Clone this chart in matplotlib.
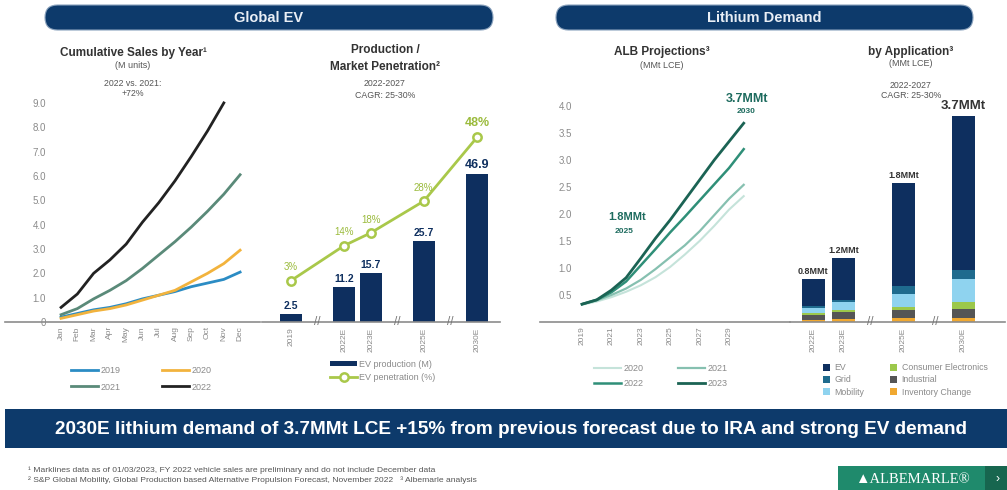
import numpy as np
import matplotlib
matplotlib.use('Agg')
import matplotlib.pyplot as plt
from matplotlib.patches import FancyBboxPatch, Rectangle, Patch

plt.rcParams['font.family'] = ['Liberation Sans', 'DejaVu Sans']

W, H = 1007, 490

# ----------------------------------------------------------------------------------
# Dane
# ----------------------------------------------------------------------------------

months = ['Jan', 'Feb', 'Mar', 'Apr', 'May', 'Jun', 'Jul', 'Aug', 'Sep', 'Oct', 'Nov', 'Dec']
sales_2019 = [0.20, 0.35, 0.50, 0.60, 0.75, 0.95, 1.10, 1.25, 1.45, 1.60, 1.75, 2.05]
sales_2020 = [0.15, 0.30, 0.45, 0.55, 0.70, 0.90, 1.10, 1.30, 1.65, 2.00, 2.40, 2.95]
sales_2021 = [0.30, 0.55, 0.95, 1.30, 1.70, 2.20, 2.75, 3.30, 3.90, 4.55, 5.25, 6.05]
sales_2022 = [0.60, 1.15, 2.00, 2.55, 3.20, 4.10, 4.90, 5.80, 6.80, 7.85, 9.00]  # bez grudnia

prod_years = ['2019', '2022E', '2023E', '2025E', '2030E']
prod_pos = [0, 2, 3, 5, 7]
ev_production = [2.5, 11.2, 15.7, 25.7, 46.9]
ev_penetration = [3, 14, 18, 28, 48]

alb_years = list(range(2019, 2031))
alb_2020 = [0.32, 0.38, 0.46, 0.56, 0.68, 0.83, 1.02, 1.25, 1.50, 1.78, 2.08, 2.33]
alb_2021 = [0.33, 0.40, 0.50, 0.62, 0.78, 0.98, 1.20, 1.42, 1.68, 1.98, 2.28, 2.54]
alb_2022 = [0.33, 0.41, 0.55, 0.75, 1.05, 1.35, 1.66, 1.95, 2.25, 2.55, 2.85, 3.20]
alb_2023 = [0.33, 0.41, 0.59, 0.82, 1.18, 1.55, 1.89, 2.26, 2.63, 3.00, 3.34, 3.68]

app_years = ['2022E', '2023E', '2025E', '2030E']
app_pos = [0, 1, 3, 5]
app_labels = ['0.8MMt', '1.2MMt', '1.8MMt', '3.7MMt']
app_inventory = [0.03, 0.06, 0.08, 0.08]
app_industrial = [0.09, 0.12, 0.13, 0.16]
app_consumer = [0.04, 0.04, 0.06, 0.12]
app_mobility = [0.09, 0.14, 0.23, 0.41]
app_grid = [0.03, 0.03, 0.15, 0.16]
app_ev = [0.50, 0.76, 1.85, 2.78]

# ----------------------------------------------------------------------------------
# Kolory
# ----------------------------------------------------------------------------------

NAVY = '#0e2f5f'
BANNER = '#0d3a6b'
GRAY_TXT = '#8a8a8a'
DARK_TXT = '#333333'
AXIS = '#8c8c8c'
GREEN = '#a9c84a'
TEAL = '#1d6b5e'


def px_axes(l, t, r, b):
    ax = fig.add_axes([l / W, 1 - b / H, (r - l) / W, (b - t) / H])
    ax.set_facecolor('none')
    for s in ax.spines.values():
        s.set_visible(False)
    return ax


fig = plt.figure(figsize=(W / 100, H / 100), dpi=100)
fig.patch.set_facecolor('white')

# tło w pikselach
bg = fig.add_axes([0, 0, 1, 1])
bg.set_xlim(0, W)
bg.set_ylim(H, 0)
bg.axis('off')

for (x0, x1, txt) in [(45, 493, 'Global EV'), (556, 973, 'Lithium Demand')]:
    bg.add_patch(FancyBboxPatch((x0, 5), x1 - x0, 25, boxstyle='round,pad=0,rounding_size=12.5',
                                facecolor=BANNER, edgecolor='#8aa2bd', lw=0.8))
    bg.text((x0 + x1) / 2, 18, txt, color='#e9eef5', fontsize=10.5, fontweight='bold',
            ha='center', va='center')

bg.add_patch(Rectangle((5, 409), 1002, 39, facecolor=BANNER, edgecolor='none'))
bg.text(511, 429, '2030E lithium demand of 3.7MMt LCE +15% from previous forecast due to IRA and strong EV demand',
        color='white', fontsize=13.7, fontweight='bold', ha='center', va='center')

bg.text(28, 470, '\u00b9 Marklines data as of 01/03/2023, FY 2022 vehicle sales are preliminary and do not include December data',
        fontsize=6.1, color='#555555', va='center')
bg.text(28, 480, '\u00b2 S&P Global Mobility, Global Production based Alternative Propulsion Forecast, November 2022   \u00b3 Albemarle analysis',
        fontsize=6.1, color='#555555', va='center')

bg.add_patch(Rectangle((838, 466), 147, 30, facecolor='#1f8a6c', edgecolor='none'))
bg.add_patch(Rectangle((985, 466), 22, 30, facecolor='#17664f', edgecolor='none'))
bg.text(912, 479, '\u25b2ALBEMARLE\u00ae', color='white', fontsize=10.5, ha='center', va='center',
        family=['Liberation Serif', 'DejaVu Serif'])
bg.text(998, 479, '\u203a', color='white', fontsize=9, ha='center', va='center')

# tytuły paneli
def title_block(x, lines):
    for y, txt, size, weight, col in lines:
        bg.text(x, y, txt, fontsize=size, fontweight=weight, color=col, ha='center', va='center')

title_block(133, [(53, 'Cumulative Sales by Year\u00b9', 8.5, 'bold', DARK_TXT),
                  (66, '(M units)', 6.5, 'normal', '#555555'),
                  (83, '2022 vs. 2021:', 6.3, 'normal', '#555555'),
                  (93, '+72%', 6.3, 'normal', '#555555')])
title_block(385, [(50, 'Production /', 8.5, 'bold', DARK_TXT),
                  (67, 'Market Penetration\u00b2', 8.5, 'bold', DARK_TXT),
                  (84, '2022-2027', 6.3, 'normal', '#555555'),
                  (95, 'CAGR: 25-30%', 6.3, 'normal', '#555555')])
title_block(662, [(52, 'ALB Projections\u00b3', 8.5, 'bold', DARK_TXT),
                  (65, '(MMt LCE)', 6.5, 'normal', '#555555')])
title_block(911, [(52, 'by Application\u00b3', 8.5, 'bold', DARK_TXT),
                  (64, '(MMt LCE)', 6.5, 'normal', '#555555'),
                  (85, '2022-2027', 6.3, 'normal', '#555555'),
                  (95, 'CAGR: 25-30%', 6.3, 'normal', '#555555')])

# ----------------------------------------------------------------------------------
# Panel 1 - sprzedaż skumulowana
# ----------------------------------------------------------------------------------

ax1 = px_axes(50, 100, 258, 322)
x_m = np.arange(len(months))
l19, = ax1.plot(x_m, sales_2019, color='#2b8cc4', lw=2)
l20, = ax1.plot(x_m, sales_2020, color='#f2b33d', lw=2)
l21, = ax1.plot(x_m, sales_2021, color='#5a8a79', lw=2)
l22, = ax1.plot(x_m[:len(sales_2022)], sales_2022, color='#222222', lw=2)
ax1.set_xlim(-0.68, 12.1)
ax1.set_ylim(0, 9.12)
ax1.set_xticks(x_m)
ax1.set_xticklabels(months, rotation=90, fontsize=6, color=GRAY_TXT)
ax1.set_yticks(np.arange(0, 10))
ax1.set_yticklabels(['0'] + [f'{v:.1f}' for v in range(1, 10)], fontsize=7, color=GRAY_TXT)
ax1.tick_params(length=0, pad=3)
ax1.axhline(0, xmin=-0.216, xmax=1.01, color=AXIS, lw=1.2, clip_on=False)
ax1.legend([l19, l21, l20, l22], ['2019', '2021', '2020', '2022'], ncol=2, frameon=False,
           fontsize=6.5, labelcolor=GRAY_TXT, handlelength=3.0, handletextpad=0.3,
           columnspacing=4.5, labelspacing=0.8,
           loc='center left', bbox_to_anchor=(63 / W, 1 - 379 / H), bbox_transform=fig.transFigure)

# ----------------------------------------------------------------------------------
# Panel 2 - produkcja / penetracja
# ----------------------------------------------------------------------------------

ax2 = px_axes(262, 120, 500, 322)
ax2.bar(prod_pos, ev_production, width=0.82, color=NAVY)
ax2.set_xlim(-1.09, 7.87)
ax2.set_ylim(0, 64.1)
ax2.set_yticks([])
ax2.set_xticks(prod_pos)
ax2.set_xticklabels(prod_years, rotation=90, fontsize=6, color=GRAY_TXT)
ax2.tick_params(length=0, pad=4)
ax2.axhline(0, color=AXIS, lw=1.2, clip_on=False)
for x, v in zip(prod_pos, ev_production):
    ax2.annotate(f'{v}', (x, v), xytext=(0, 2), textcoords='offset points', ha='center', va='bottom',
                 fontsize=9 if v == max(ev_production) else 7.5, fontweight='bold', color=NAVY)
for x in [1, 4, 6]:
    ax2.text(x, 0, '//', fontsize=8.5, color='#777777', ha='center', va='center', clip_on=False)

ax2b = ax2.twinx()
ax2b.set_facecolor('none')
for s in ax2b.spines.values():
    s.set_visible(False)
ln, = ax2b.plot(prod_pos, ev_penetration, color=GREEN, lw=2, marker='o', ms=6,
                mfc='white', mec=GREEN, mew=1.8)
ax2b.set_ylim(-10, 53.5)
ax2b.set_yticks([])
for x, v in zip(prod_pos, ev_penetration):
    ax2b.annotate(f'{v}%', (x, v), xytext=(0, 6), textcoords='offset points', ha='center', va='bottom',
                  fontsize=9 if v == max(ev_penetration) else 7, color='#9bbb3c',
                  fontweight='bold' if v == max(ev_penetration) else 'normal')
ax2b.legend([Patch(facecolor=NAVY), ln], ['EV production (M)', 'EV penetration (%)'], frameon=False,
            fontsize=6.5, labelcolor=GRAY_TXT, handlelength=3.0, handleheight=0.6, handletextpad=0.2,
            labelspacing=0.5, loc='center left', bbox_to_anchor=(322 / W, 1 - 371 / H),
            bbox_transform=fig.transFigure)

# ----------------------------------------------------------------------------------
# Panel 3 - prognozy ALB
# ----------------------------------------------------------------------------------

ax3 = px_axes(576, 100, 790, 322)
a20, = ax3.plot(alb_years, alb_2020, color='#c5e3da', lw=1.5)
a21, = ax3.plot(alb_years, alb_2021, color='#86c0b0', lw=1.6)
a22, = ax3.plot(alb_years, alb_2022, color='#2f8f78', lw=1.8)
a23, = ax3.plot(alb_years, alb_2023, color='#1b6354', lw=2)
ax3.set_xlim(2018.59, 2033.15)
ax3.set_ylim(0, 4.11)
ax3.set_xticks(range(2019, 2030, 2))
ax3.set_xticklabels([str(y) for y in range(2019, 2030, 2)], rotation=90, fontsize=6, color=GRAY_TXT)
ax3.set_yticks(np.arange(0.5, 4.01, 0.5))
ax3.set_yticklabels([f'{v:.1f}' for v in np.arange(0.5, 4.01, 0.5)], fontsize=7, color=GRAY_TXT)
ax3.tick_params(length=0, pad=3)
ax3.axhline(0, xmin=-0.168, xmax=1.0, color=AXIS, lw=1.2, clip_on=False)
i25 = alb_years.index(2025)
ax3.annotate('1.8MMt', (2025, alb_2023[i25]), xytext=(-31, 2), textcoords='offset points',
             ha='center', va='center', fontsize=8, fontweight='bold', color=TEAL)
ax3.annotate('2025', (2025, alb_2023[i25]), xytext=(-33, -8), textcoords='offset points',
             ha='center', va='center', fontsize=6, fontweight='bold', color=TEAL)
ax3.annotate('3.7MMt', (2030, alb_2023[-1]), xytext=(2.4, 17.3), textcoords='offset points',
             ha='center', va='center', fontsize=9, fontweight='bold', color=TEAL)
ax3.annotate('2030', (2030, alb_2023[-1]), xytext=(1.7, 8.1), textcoords='offset points',
             ha='center', va='center', fontsize=6, fontweight='bold', color=TEAL)
ax3.legend([a20, a22, a21, a23], ['2020', '2022', '2021', '2023'], ncol=2, frameon=False,
           fontsize=6.5, labelcolor=GRAY_TXT, handlelength=3.0, handletextpad=0.3,
           columnspacing=3.8, labelspacing=0.6,
           loc='center left', bbox_to_anchor=(586 / W, 1 - 376 / H), bbox_transform=fig.transFigure)

# ----------------------------------------------------------------------------------
# Panel 4 - popyt wg zastosowania
# ----------------------------------------------------------------------------------

ax4 = px_axes(790, 100, 1005, 322)
segments = [('Inventory Change', app_inventory, '#f0a830'),
            ('Industrial', app_industrial, '#555555'),
            ('Consumer Electronics', app_consumer, '#9cc84b'),
            ('Mobility', app_mobility, '#8fd3ef'),
            ('Grid', app_grid, '#1f6b8e'),
            ('EV', app_ev, NAVY)]
bottom = np.zeros(len(app_pos))
for name, vals, col in segments:
    ax4.bar(app_pos, vals, bottom=bottom, width=0.77, color=col)
    bottom += np.array(vals)
ax4.set_xlim(-0.78, 6.38)
ax4.set_ylim(0, 4.0)
ax4.set_yticks([])
ax4.set_xticks(app_pos)
ax4.set_xticklabels(app_years, rotation=90, fontsize=6, color=GRAY_TXT)
ax4.tick_params(length=0, pad=4)
ax4.axhline(0, color=AXIS, lw=1.2, clip_on=False)
for x, tot, lab in zip(app_pos, bottom, app_labels):
    big = lab == app_labels[-1]
    ax4.annotate(lab, (x, tot), xytext=(0, 3 if big else 2), textcoords='offset points', ha='center',
                 va='bottom', fontsize=9.5 if big else 6.5, fontweight='bold', color=DARK_TXT)
for x in [1.9, 4.05]:
    ax4.text(x, 0, '//', fontsize=8.5, color='#777777', ha='center', va='center', clip_on=False)
seg = {name: col for name, vals, col in segments}
order = ['EV', 'Grid', 'Mobility', 'Consumer Electronics', 'Industrial', 'Inventory Change']
ax4.legend([Patch(facecolor=seg[n]) for n in order], order, ncol=2, frameon=False,
           fontsize=6.3, labelcolor=GRAY_TXT, handlelength=0.8, handleheight=0.8, handletextpad=0.5,
           columnspacing=3.0, labelspacing=0.35,
           loc='center left', bbox_to_anchor=(815 / W, 1 - 380 / H), bbox_transform=fig.transFigure)

plt.savefig('out.png', dpi=100)
